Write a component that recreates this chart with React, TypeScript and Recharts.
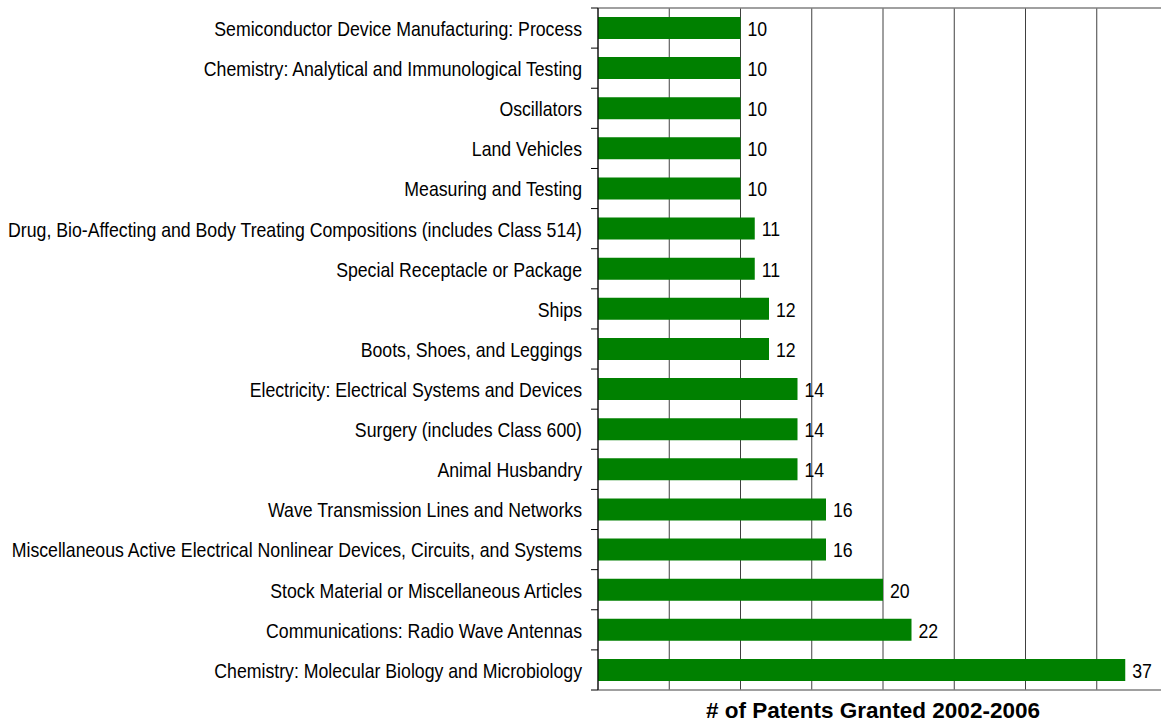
import { BarChart, Bar, XAxis, YAxis, CartesianGrid, LabelList } from "recharts";

const categories = [
  "Semiconductor Device Manufacturing: Process",
  "Chemistry: Analytical and Immunological Testing",
  "Oscillators",
  "Land Vehicles",
  "Measuring and Testing",
  "Drug, Bio-Affecting and Body Treating Compositions (includes Class 514)",
  "Special Receptacle or Package",
  "Ships",
  "Boots, Shoes, and Leggings",
  "Electricity: Electrical Systems and Devices",
  "Surgery (includes Class 600)",
  "Animal Husbandry",
  "Wave Transmission Lines and Networks",
  "Miscellaneous Active Electrical Nonlinear Devices, Circuits, and Systems",
  "Stock Material or Miscellaneous Articles",
  "Communications: Radio Wave Antennas",
  "Chemistry: Molecular Biology and Microbiology",
];

const patents = [10, 10, 10, 10, 10, 11, 11, 12, 12, 14, 14, 14, 16, 16, 20, 22, 37];

const xTicks = [0, 5, 10, 15, 20, 25, 30, 35, 40];

const data = categories.map((name, i) => ({ name, value: patents[i] }));

const FONT = "'Liberation Sans', Arial, sans-serif";

// the original text is Arial squeezed horizontally
function Squeezed({ x, y, anchor, children }: any) {
  return (
    <text
      transform={`translate(${x},${y}) scale(0.885,1)`}
      textAnchor={anchor}
      dominantBaseline="central"
      fontSize={20}
      fontFamily={FONT}
      fill="#000"
    >
      {children}
    </text>
  );
}

function CategoryTick(props: any) {
  const { x, y, payload, index } = props;
  const half = payload?.offset ?? 20;
  const last = index === categories.length - 1;
  return (
    <g>
      <line x1={x - 7} x2={x} y1={y - half} y2={y - half} stroke="#000" />
      {last && <line x1={x - 7} x2={x} y1={y + half} y2={y + half} stroke="#000" />}
      <Squeezed x={x - 16} y={y + 1} anchor="end">
        {payload.value}
      </Squeezed>
    </g>
  );
}

function ValueLabel(props: any) {
  const { x, y, width, height, value } = props;
  return (
    <Squeezed x={x + width + 7} y={y + height / 2 + 1} anchor="start">
      {value}
    </Squeezed>
  );
}

function AxisTitle(props: any) {
  const vb = props.viewBox || {};
  return (
    <text
      x={vb.x + vb.width / 2 - 10}
      y={vb.y + 28}
      textAnchor="middle"
      fontSize={22.5}
      fontWeight="bold"
      fontFamily={FONT}
      fill="#000"
    >
      # of Patents Granted 2002-2006
    </text>
  );
}

export default function App() {
  return (
    <div
      style={{
        position: "absolute",
        left: 0,
        top: 0,
        width: 1161,
        height: 723,
        overflow: "hidden",
        background: "#fff",
      }}
    >
      <BarChart
        width={1180}
        height={723}
        data={data}
        layout="vertical"
        margin={{ top: 0, right: 12, bottom: 0, left: 0 }}
      >
        <CartesianGrid horizontal={false} stroke="#404040" />
        <XAxis
          type="number"
          domain={[0, 40]}
          ticks={xTicks}
          interval={0}
          tick={<g />}
          tickLine={false}
          axisLine={{ stroke: "#808080", strokeWidth: 1.5 }}
          height={33}
          label={<AxisTitle />}
        />
        <XAxis
          xAxisId="top"
          orientation="top"
          type="number"
          domain={[0, 40]}
          tick={false}
          tickLine={false}
          axisLine={{ stroke: "#808080", strokeWidth: 1.5 }}
          height={8}
        />
        <YAxis
          type="category"
          dataKey="name"
          width={598}
          interval={0}
          tickLine={false}
          tickSize={0}
          tickMargin={0}
          axisLine={{ stroke: "#000" }}
          tick={<CategoryTick />}
        />
        <Bar dataKey="value" fill="#008000" barSize={22} isAnimationActive={false}>
          <LabelList dataKey="value" content={<ValueLabel />} />
        </Bar>
      </BarChart>
    </div>
  );
}
